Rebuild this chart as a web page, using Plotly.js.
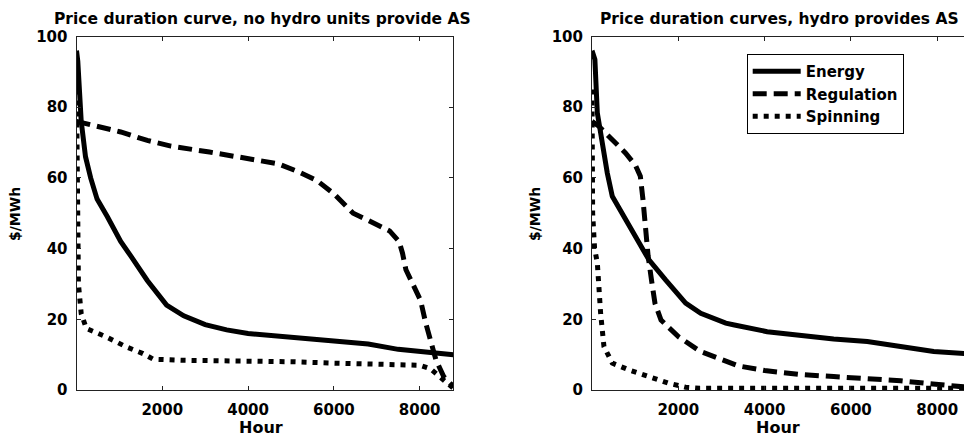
<!DOCTYPE html>
<html>
<head>
<meta charset="utf-8">
<script src="https://cdn.plot.ly/plotly-3.0.1.min.js"></script>
<style>
html,body{margin:0;padding:0;overflow:hidden;background:#fff;}
#chart{width:964px;height:439px;}
</style>
</head>
<body>
<div id="chart"></div>
<script>
// ---- Data ----
// Left panel: no hydro units provide AS
const leftEnergyX = [0, 30, 110, 210, 330, 480, 720, 1030, 1260, 1650, 2100, 2500, 3000, 3500, 4000, 5000, 6000, 6800, 7500, 8000, 8784];
const leftEnergyY = [96, 93, 76, 66, 60, 54, 49, 42, 38, 31, 24, 21, 18.5, 17, 16, 15, 14, 13, 11.5, 10.8, 10];

const leftRegX = [0, 330, 1030, 1650, 2200, 3100, 4000, 4700, 5200, 5600, 6000, 6450, 6800, 7300, 7520, 7600, 7680, 7870, 8020, 8140, 8300, 8380, 8560, 8784];
const leftRegY = [76, 75, 73, 70.6, 69, 67.3, 65.4, 64, 61.6, 59.3, 55.5, 50, 48, 45, 42, 38.7, 34, 29.2, 25.4, 19, 12.2, 8.5, 3.8, 1];

const leftSpinX = [0, 15, 45, 110, 230, 700, 1160, 1550, 1790, 2500, 4000, 5000, 6000, 7000, 8000, 8250, 8450, 8650, 8784];
const leftSpinY = [85, 45, 30, 21.6, 17.4, 15, 12.2, 10.3, 8.7, 8.4, 8.3, 8, 7.6, 7.2, 7, 6, 3.8, 1.9, 0.5];

// Right panel: hydro provides AS
const rightEnergyX = [0, 67, 123, 238, 354, 470, 780, 1090, 1320, 1700, 2170, 2520, 3100, 3300, 4060, 5600, 6380, 7150, 7920, 8784];
const rightEnergyY = [96, 93.5, 78.4, 69, 61.4, 54.8, 48.2, 41.6, 36.8, 31.2, 24.6, 21.7, 18.9, 18.4, 16.5, 14.4, 13.7, 12.3, 10.9, 10.2];

const rightRegX = [0, 160, 470, 780, 1010, 1120, 1180, 1240, 1300, 1380, 1460, 1600, 2000, 2500, 2900, 3400, 4000, 4800, 5600, 6400, 7150, 7900, 8784];
const rightRegY = [76, 74.6, 70.8, 67, 63.5, 60.5, 54, 45.5, 38, 31, 24.5, 19.8, 15.1, 11, 9, 6.8, 5.5, 4.4, 3.8, 3.3, 2.6, 1.7, 0.7];

const rightSpinX = [0, 15, 60, 123, 200, 277, 470, 855, 1320, 1780, 2170, 2500, 4000, 6000, 8000, 8784];
const rightSpinY = [85, 50, 40, 36, 21.7, 12.3, 7.6, 5.7, 3.8, 1.9, 0.8, 0.5, 0.5, 0.5, 0.5, 0.5];

const seriesNames = ["Energy", "Regulation", "Spinning"];
const xTicks = [2000, 4000, 6000, 8000];
const yTicks = [0, 20, 40, 60, 80, 100];
const titles = ["Price duration curve, no hydro units provide AS", "Price duration curves, hydro provides AS"];
const xTitle = "Hour";
const yTitle = "$/MWh";

// ---- Styles ----
const FONT = "DejaVu Sans, Liberation Sans, Arial, sans-serif";
const LW = 5;
const dashStyles = ["solid", "14px,7px", "5px,6px"];

function tr(x, y, i, xa, ya, showLegend) {
  return {
    x: x, y: y, type: "scatter", mode: "lines",
    name: seriesNames[i], xaxis: xa, yaxis: ya, showlegend: showLegend,
    line: {color: "#000", width: LW, dash: dashStyles[i]},
    hoverinfo: "skip"
  };
}

const data = [
  tr(leftEnergyX, leftEnergyY, 0, "x", "y", false),
  tr(leftRegX, leftRegY, 1, "x", "y", false),
  tr(leftSpinX, leftSpinY, 2, "x", "y", false),
  tr(rightEnergyX, rightEnergyY, 0, "x2", "y2", true),
  tr(rightRegX, rightRegY, 1, "x2", "y2", true),
  tr(rightSpinX, rightSpinY, 2, "x2", "y2", true)
];

const tickFont = {family: FONT, size: 15, color: "#000", weight: "bold"};
const axBase = {
  showgrid: false, zeroline: false, showline: true, linecolor: "#222", linewidth: 1,
  ticks: "inside", ticklen: 4, tickwidth: 1, tickcolor: "#222",
  tickfont: tickFont, fixedrange: true
};

const yDom = [1 - 390/439, 1 - 36.5/439];

const layout = {
  width: 964, height: 439,
  margin: {l: 0, r: 0, t: 0, b: 0},
  paper_bgcolor: "#fff", plot_bgcolor: "#fff",
  showlegend: true,
  xaxis: Object.assign({}, axBase, {domain: [76.5/964, 453.3/964], range: [0, 8784], tickvals: xTicks, mirror: "ticks", anchor: "y", ticklabelstandoff: 6}),
  yaxis: Object.assign({}, axBase, {domain: yDom, range: [0, 100], tickvals: yTicks, mirror: "ticks", anchor: "x", ticklabelstandoff: 5}),
  xaxis2: Object.assign({}, axBase, {domain: [592/964, 1], range: [0, 8621], tickvals: xTicks, mirror: "ticks", anchor: "y2", ticklabelstandoff: 6}),
  yaxis2: Object.assign({}, axBase, {domain: yDom, range: [0, 100], tickvals: yTicks, mirror: false, anchor: "x2", ticklabelstandoff: 5}),
  legend: {
    x: 746.7/964, y: 1 - 54/439, xanchor: "left", yanchor: "top",
    bgcolor: "#fff", bordercolor: "#000", borderwidth: 1,
    font: {family: FONT, size: 15, color: "#000", weight: "bold"},
    itemwidth: 48, tracegroupgap: 0
  },
  annotations: [
    {text: titles[0], x: 262.5/964, y: 1 - 18.5/439, xref: "paper", yref: "paper", xanchor: "center", yanchor: "middle", showarrow: false, font: {family: FONT, size: 15.5, color: "#000", weight: "bold"}},
    {text: titles[1], x: 779/964, y: 1 - 18.5/439, xref: "paper", yref: "paper", xanchor: "center", yanchor: "middle", showarrow: false, font: {family: FONT, size: 15.5, color: "#000", weight: "bold"}},
    {text: xTitle, x: 261/964, y: 1 - 427/439, xref: "paper", yref: "paper", xanchor: "center", yanchor: "middle", showarrow: false, font: {family: FONT, size: 16, color: "#000", weight: "bold"}},
    {text: xTitle, x: 778/964, y: 1 - 427/439, xref: "paper", yref: "paper", xanchor: "center", yanchor: "middle", showarrow: false, font: {family: FONT, size: 16, color: "#000", weight: "bold"}},
    {text: yTitle, x: 15/964, y: 1 - 214/439, xref: "paper", yref: "paper", xanchor: "center", yanchor: "middle", textangle: -90, showarrow: false, font: {family: FONT, size: 14, color: "#000", weight: "bold"}},
    {text: yTitle, x: 535/964, y: 1 - 214/439, xref: "paper", yref: "paper", xanchor: "center", yanchor: "middle", textangle: -90, showarrow: false, font: {family: FONT, size: 14, color: "#000", weight: "bold"}}
  ]
};

Plotly.newPlot("chart", data, layout, {displayModeBar: false, staticPlot: true});
</script>
</body>
</html>
